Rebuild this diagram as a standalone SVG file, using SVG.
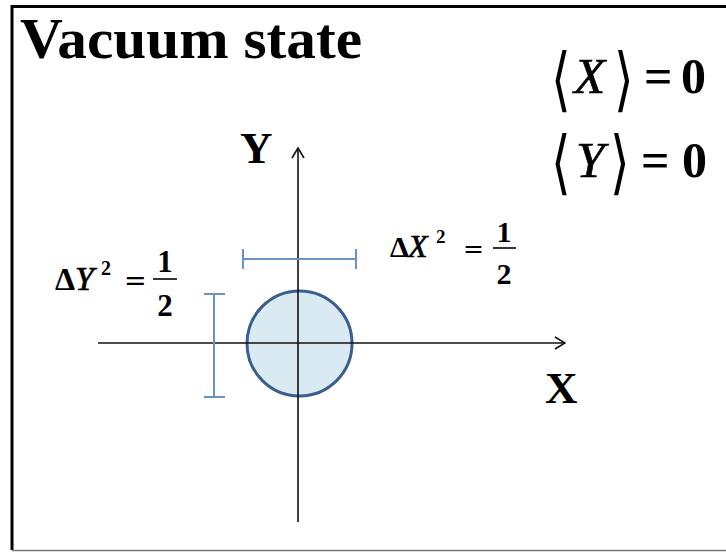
<svg xmlns="http://www.w3.org/2000/svg" width="726" height="552" viewBox="0 0 726 552">
<style>
.serif{font-family:"Liberation Serif","DejaVu Serif",serif;fill:#000}
.dv{font-family:"DejaVu Serif",serif;fill:#000}
.b{font-weight:bold}
.i{font-style:italic}
.eq{stroke:#000;stroke-width:0.7}
.axis{stroke:#111;stroke-width:1.6;fill:none}
.bar{stroke:#6B93C7;stroke-width:2;fill:none}
.br{font-family:"DejaVu Sans",sans-serif;font-weight:200;fill:#000}
</style>
<defs>
<marker id="arr" viewBox="0 0 12 14" refX="11" refY="7" markerWidth="12" markerHeight="14" markerUnits="userSpaceOnUse" orient="auto">
<path d="M1,1 L11,7 L1,13" fill="none" stroke="#111" stroke-width="1.6"/>
</marker>
</defs>
<rect width="726" height="552" fill="#fff"/>
<g id="frame">
<path d="M12,550 L12,6.5 L726,6.5" fill="none" stroke="#000" stroke-width="3"/>
<line x1="12" y1="550.5" x2="726" y2="550.5" stroke="#777" stroke-width="1.5"/>
</g>
<g id="title"><text class="serif b" x="20" y="58" font-size="57" textLength="342" lengthAdjust="spacingAndGlyphs">Vacuum state</text></g>
<g id="circle"><circle cx="299.5" cy="343.5" r="52.5" fill="#DAEAF2" stroke="#3B5E8C" stroke-width="3"/></g>
<g id="connectors">
<line class="axis" x1="298" y1="522" x2="298" y2="148" marker-end="url(#arr)"/>
<line class="axis" x1="98" y1="343" x2="565" y2="343" marker-end="url(#arr)"/>
<path class="bar" d="M243,259 L356,259 M243,249 L243,269 M356,249 L356,269"/>
<path class="bar" d="M214,294 L214,397 M204,294 L225,294 M204,397 L225,397"/>
</g>
<g id="labelY"><text class="serif b" x="240" y="163" font-size="45">Y</text></g>
<g id="labelX"><text class="serif b" x="545" y="403" font-size="45">X</text></g>
<g id="eqX">
<text class="br" x="0" y="0" font-size="70" transform="translate(551,103) scale(0.72,1)">⟨</text>
<text class="serif i eq" x="574" y="93" font-size="51">X</text>
<text class="br" x="0" y="0" font-size="70" transform="translate(614,103) scale(0.72,1)">⟩</text>
<text class="serif b" x="644" y="93" font-size="50">=</text>
<text class="serif b" x="681" y="93" font-size="50">0</text>
</g>
<g id="eqY">
<text class="br" x="0" y="0" font-size="70" transform="translate(551,186) scale(0.72,1)">⟨</text>
<text class="serif i eq" x="576" y="177" font-size="51">Y</text>
<text class="br" x="0" y="0" font-size="70" transform="translate(610,186) scale(0.72,1)">⟩</text>
<text class="serif b" x="641" y="177" font-size="50">=</text>
<text class="serif b" x="682" y="177" font-size="50">0</text>
</g>
<g id="dY">
<text class="serif b" x="55" y="290" font-size="32">Δ</text>
<text class="serif i eq" x="75" y="290" font-size="34">Y</text>
<text class="serif b" x="101" y="275" font-size="20">2</text>
<text class="dv" x="124" y="290" font-size="27">=</text>
<text class="serif b" x="165" y="272" font-size="31" text-anchor="middle">1</text>
<line x1="153" y1="279" x2="177" y2="279" stroke="#000" stroke-width="1.6"/>
<text class="serif b" x="165" y="316" font-size="31" text-anchor="middle">2</text>
</g>
<g id="dX">
<text class="serif b" x="390" y="257" font-size="30">Δ</text>
<text class="serif i eq" x="408" y="257" font-size="32">X</text>
<text class="serif b" x="436" y="243" font-size="19">2</text>
<text class="dv" x="463" y="257" font-size="25">=</text>
<text class="serif b" x="504" y="242" font-size="30" text-anchor="middle">1</text>
<line x1="493" y1="248" x2="516" y2="248" stroke="#000" stroke-width="1.6"/>
<text class="serif b" x="504" y="284" font-size="30" text-anchor="middle">2</text>
</g>
</svg>
